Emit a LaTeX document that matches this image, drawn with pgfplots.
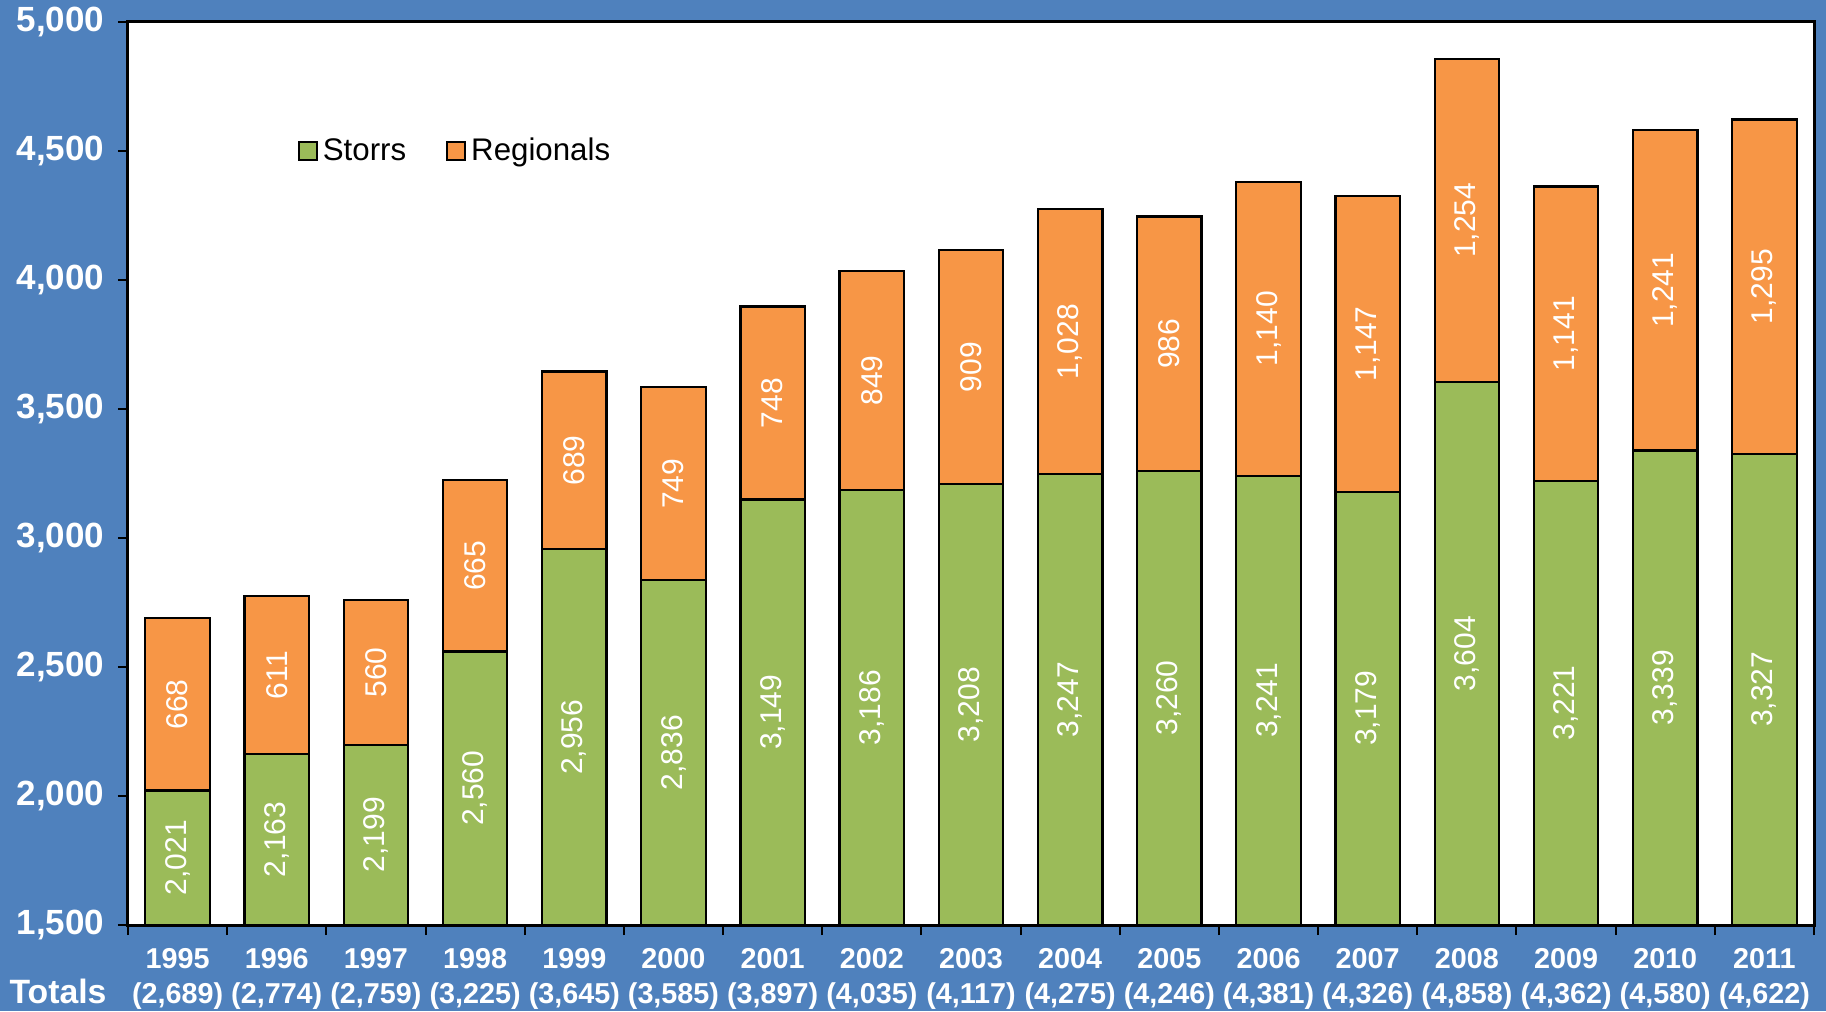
\documentclass[border=0pt]{standalone}
\usepackage{pgfplots}
\pgfplotsset{compat=1.18}
\usepackage{pgfplotstable}
\usepackage{fontspec}
\setmainfont{Liberation Sans}
\definecolor{bgblue}{HTML}{4F81BD}
\definecolor{sgreen}{HTML}{9BBB59}
\definecolor{rorange}{HTML}{F79646}
\pgfplotsset{boxlegend/.style={legend image code/.code={\draw[##1, line width=0.8pt] (0pt,-3.6pt) rectangle (7.2pt,3.6pt);}}}
\pgfplotstableread{
x s r t
0 2021 668 2689
1 2163 611 2774
2 2199 560 2759
3 2560 665 3225
4 2956 689 3645
5 2836 749 3585
6 3149 748 3897
7 3186 849 4035
8 3208 909 4117
9 3247 1028 4275
10 3260 986 4246
11 3241 1140 4381
12 3179 1147 4326
13 3604 1254 4858
14 3221 1141 4362
15 3339 1241 4580
16 3327 1295 4622
}\data
\begin{document}
\begin{tikzpicture}
\clip (-51.2pt,-34.4pt) rectangle (679.2pt,370pt);
\fill[bgblue] (-51.2pt,-34.4pt) rectangle (679.2pt,370pt);
\begin{axis}[
  scale only axis, width=674.4pt, height=361.2pt,
  at={(0,0)}, anchor=south west,
  xmin=-0.5, xmax=16.5, ymin=1500, ymax=5000,
  axis background/.style={fill=white},
  axis line style={black, line width=1.2pt},
  /pgf/number format/assume math mode=true,
  ytick={1500,2000,...,5000},
  scaled y ticks=false,
  yticklabel style={font=\bfseries\fontsize{14}{15}\selectfont, text=white, /pgf/number format/1000 sep={,}, xshift=-2pt},
  xtick={-0.5,0.5,...,16.5},
  xticklabels={},
  extra x ticks={0,...,16},
  extra x tick labels={{1995\\(2,689)},{1996\\(2,774)},{1997\\(2,759)},{1998\\(3,225)},{1999\\(3,645)},{2000\\(3,585)},{2001\\(3,897)},{2002\\(4,035)},{2003\\(4,117)},{2004\\(4,275)},{2005\\(4,246)},{2006\\(4,381)},{2007\\(4,326)},{2008\\(4,858)},{2009\\(4,362)},{2010\\(4,580)},{2011\\(4,622)}},
  extra x tick style={major tick length=0pt, xticklabel style={font=\bfseries\fontsize{11.5}{14}\selectfont, text=white, align=center, yshift=-6pt}},
  tick align=outside,
  tick pos=left,
  tick style={black, line width=0.8pt},
  major tick length=4pt,
  legend style={at={(0.096,0.857)}, anchor=west, draw=none, fill=none, legend columns=2,
    font=\fontsize{12.5}{15}\selectfont, /tikz/every even column/.append style={column sep=14pt},
    nodes={inner xsep=2pt}},
  legend cell align=left,
]
\addlegendimage{boxlegend, fill=sgreen, draw=black}
\addlegendentry{Storrs}
\addlegendimage{boxlegend, fill=rorange, draw=black}
\addlegendentry{Regionals}
\addplot[ybar, bar width=0.65, bar shift=0pt, fill=rorange, draw=black, line width=0.9pt, forget plot] table[x=x, y=t] {\data};
\addplot[ybar, bar width=0.65, bar shift=0pt, fill=sgreen, draw=black, line width=0.9pt, forget plot] table[x=x, y=s] {\data};
\addplot[draw=none, mark=none, forget plot,
  point meta=\thisrow{s},
  nodes near coords={\pgfmathprintnumber[1000 sep={,}, assume math mode=true, fixed, precision=0]{\pgfplotspointmeta}},
  every node near coord/.style={rotate=90, anchor=center, text=white, font=\fontsize{12}{14}\selectfont}]
  table[x=x, y expr={(\thisrow{s}+1500)/2}] {\data};
\addplot[draw=none, mark=none, forget plot,
  point meta=\thisrow{r},
  nodes near coords={\pgfmathprintnumber[1000 sep={,}, assume math mode=true, fixed, precision=0]{\pgfplotspointmeta}},
  every node near coord/.style={rotate=90, anchor=center, text=white, font=\fontsize{12}{14}\selectfont}]
  table[x=x, y expr={\thisrow{s}+\thisrow{r}/2}] {\data};
\end{axis}
\node[text=white, font=\bfseries\fontsize{13.5}{15}\selectfont] at (-28pt,-26.5pt) {Totals};
\end{tikzpicture}
\end{document}
